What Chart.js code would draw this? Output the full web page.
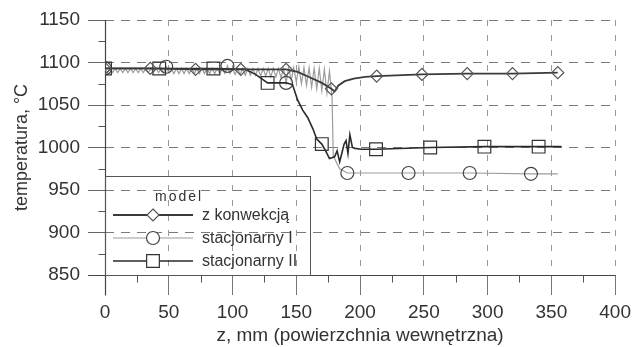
<!DOCTYPE html>
<html><head><meta charset="utf-8">
<script src="https://cdn.jsdelivr.net/npm/chart.js@4/dist/chart.umd.min.js"></script>
<style>html,body{margin:0;padding:0;background:#fff}</style>
</head><body>
<canvas id="c" width="637" height="347"></canvas>
<script>
// ---- tick labels ----
const xTickValues = [0, 50, 100, 150, 200, 250, 300, 350, 400];
const yTickValues = [850, 900, 950, 1000, 1050, 1100, 1150];
const xMinorValues = [25, 75, 125, 175, 225, 275, 325, 375];
const yMinorValues = [875, 925, 975, 1025, 1075, 1125];

// ---- series: z konwekcją ----
const zKonw = [0, 35.5, 71, 106.5, 142, 151, 160, 170, 177.5, 180, 183, 188, 195, 204, 213, 248.5, 284, 319.5, 355];
const tKonw = [1093, 1093, 1092, 1092, 1092, 1089, 1083, 1076, 1069, 1066, 1073, 1078, 1081, 1083, 1084, 1086, 1087, 1087, 1088];
const markKonw = [0, 35.5, 71, 106.5, 142, 177.5, 213, 248.5, 284, 319.5, 355];

// ---- series: stacjonarny I ----
const zSt1 = [0,2,4,6,8,10,12,14,16,18,20,22,24,26,28,30,32,34,36,38,40,42,44,46,
  48,50,52,54,56,58,60,62,64,66,68,70,72,74,76,78,80,82,84,86,88,90,92,94,
  96,98,100,102,104,106,108,110,112,114,116,118,120,122,124,126,128,130,132,134,136,138,
  140,142,144,146,148,150,152,154,156,158,160,162,164,166,168,170,172,174,176,178,
  179,184,190,238,286,334,355];
const tSt1 = [1093,1088,1093,1088,1093,1088,1093,1088,1093,1088,1093,1088,1093,1088,1093,1088,1093,1088,1093,1088,1093,1088,1093,1088,
  1095,1088,1093,1087,1093,1087,1093,1087,1093,1087,1093,1087,1093,1087,1093,1087,1093,1087,1093,1087,1093,1087,1093,1087,
  1096,1087,1093,1086,1093,1086,1093,1085,1093,1085,1093,1085,1093,1084,1093,1084,1093,1083,1093,1083,1093,1082,
  1093,1076,1094,1079,1094,1077,1095,1075,1094,1073,1094,1071,1093,1069,1093,1067,1092,1064,1090,1060,
  990,975,970,970,970,969,969];
const markSt1 = [0, 48, 96, 142, 190, 238, 286, 334];

// ---- series: stacjonarny II ----
const zSt2 = [0, 42.5, 85, 110, 118, 127.5, 135, 142, 147, 151, 155, 159, 163, 166, 170, 173, 176, 180, 182, 184,
  187.5, 189, 190.5, 192, 194, 196, 201, 212.5, 255, 297.5, 340, 358];
const tSt2 = [1093, 1093, 1093, 1092, 1086, 1076, 1076, 1076, 1074, 1056, 1044, 1035, 1022, 1010, 1004, 996, 987, 989, 996, 983,
  1004, 1008, 993, 1015, 1000, 999, 998, 998, 1000, 1001, 1001, 1001];
const markSt2 = [0, 42.5, 85, 127.5, 170, 212.5, 255, 297.5, 340];

const legendTitle = 'model';
const legendNames = ['z konwekcją', 'stacjonarny I', 'stacjonarny II'];
const xTitle = 'z, mm (powierzchnia wewnętrzna)';
const yTitle = 'temperatura, °C';

const FONT = '"Liberation Sans", Arial, sans-serif';
const TXT = '#333';
const pts = (zs, ts) => zs.map((z, i) => ({x: z, y: ts[i]}));
const rad = (marks, r) => ctx => (ctx.raw && marks.includes(ctx.raw.x)) ? r : 0;

const styles = [
  {color: '#3a3a3a', width: 1.8, marker: 'rectRot', r: 6, mcol: '#555'},
  {color: '#9c9c9c', width: 1.2, marker: 'circle', r: 6.5, mcol: '#444'},
  {color: '#2a2a2a', width: 1.6, marker: 'rect', r: 9, mcol: '#333'}
];

function drawMarker(ctx, style, x, y, r) {
  ctx.beginPath();
  if (style === 'circle') { ctx.arc(x, y, r, 0, Math.PI * 2); }
  else if (style === 'rect') { const s = r * Math.SQRT1_2; ctx.rect(x - s, y - s, 2 * s, 2 * s); }
  else { ctx.moveTo(x, y - r); ctx.lineTo(x + r, y); ctx.lineTo(x, y + r); ctx.lineTo(x - r, y); ctx.closePath(); }
  ctx.fillStyle = '#fff'; ctx.fill(); ctx.stroke();
}

const axes = {
  id: 'axes',
  beforeDatasetsDraw(chart) {
    const {ctx, chartArea: a, scales: {x, y}} = chart;
    const L = Math.round(a.left) + 0.5, B = Math.round(a.bottom) + 0.5;
    ctx.save();
    ctx.setLineDash([]);
    ctx.strokeStyle = '#444'; ctx.lineWidth = 1.2;
    ctx.beginPath();
    ctx.moveTo(L - 17, B); ctx.lineTo(Math.round(a.right) + 0.5, B);
    ctx.moveTo(L, Math.round(a.top)); ctx.lineTo(L, B + 20);
    ctx.stroke();
    ctx.strokeStyle = '#555'; ctx.lineWidth = 1;
    ctx.beginPath();
    xMinorValues.forEach(v => { const px = Math.round(x.getPixelForValue(v)) + 0.5; ctx.moveTo(px, B); ctx.lineTo(px, B + 7); });
    yMinorValues.forEach(v => { const py = Math.round(y.getPixelForValue(v)) + 0.5; ctx.moveTo(L, py); ctx.lineTo(L - 7, py); });
    ctx.stroke();
    ctx.restore();
  }
};

const legendBox = {
  id: 'legendBox',
  afterDraw(chart) {
    const {ctx, chartArea: a} = chart;
    ctx.save();
    const W = 205, H = 99, L = Math.round(a.left), T = Math.round(a.bottom) - H;
    ctx.strokeStyle = '#555'; ctx.lineWidth = 1;
    ctx.strokeRect(L + 0.5, T + 0.5, W, H);
    ctx.fillStyle = TXT;
    ctx.font = '14px ' + FONT;
    ctx.textBaseline = 'middle'; ctx.textAlign = 'left';
    try { ctx.letterSpacing = '2px'; } catch (e) {}
    ctx.fillText(legendTitle, L + 50, T + 21);
    try { ctx.letterSpacing = '0px'; } catch (e) {}
    ctx.font = '16px ' + FONT;
    legendNames.forEach((name, i) => {
      const st = styles[i];
      const yy = T + 39 + i * 23;
      ctx.strokeStyle = st.color; ctx.lineWidth = st.width;
      ctx.beginPath(); ctx.moveTo(L + 8, yy); ctx.lineTo(L + 88, yy); ctx.stroke();
      ctx.strokeStyle = st.mcol; ctx.lineWidth = 1.2;
      drawMarker(ctx, st.marker, L + 48, yy, st.r);
      ctx.fillStyle = TXT;
      ctx.fillText(name, L + 97, yy + 1);
    });
    ctx.restore();
  }
};

const mk = (i, label, data, marks) => ({
  label, data: pts(...data),
  borderColor: styles[i].color, borderWidth: styles[i].width,
  pointStyle: styles[i].marker, pointRadius: rad(marks, styles[i].r),
  pointBorderColor: styles[i].mcol, pointBorderWidth: 1.2,
  pointBackgroundColor: 'rgba(255,255,255,0)', pointHoverRadius: 0,
  tension: 0, fill: false, showLine: true
});

new Chart(document.getElementById('c'), {
  type: 'scatter',
  data: {
    datasets: [
      Object.assign(mk(0, legendNames[0], [zKonw, tKonw], markKonw), {order: 1}),
      Object.assign(mk(2, legendNames[2], [zSt2, tSt2], markSt2), {order: 2}),
      Object.assign(mk(1, legendNames[1], [zSt1, tSt1], markSt1), {order: 3})
    ]
  },
  options: {
    responsive: false, animation: false, devicePixelRatio: 1,
    layout: {padding: {top: 20, right: 16, left: 0, bottom: 0}},
    plugins: {legend: {display: false}, tooltip: {enabled: false}},
    scales: {
      x: {
        type: 'linear', min: 0, max: 400,
        afterBuildTicks: s => { s.ticks = xTickValues.map(v => ({value: v})); },
        afterFit: s => { s.height = 72; },
        grid: {color: '#999', lineWidth: 1, tickLength: 20, tickColor: '#777', tickBorderDash: []},
        border: {display: false, dash: [6, 9]},
        ticks: {color: TXT, font: {family: FONT, size: 19}, padding: 6, maxRotation: 0, autoSkip: false, callback: v => String(v)},
        title: {display: true, text: xTitle, color: TXT, font: {family: FONT, size: 19}, padding: {top: 0, bottom: 0}}
      },
      y: {
        type: 'linear', min: 850, max: 1150,
        afterBuildTicks: s => { s.ticks = yTickValues.map(v => ({value: v})); },
        afterFit: s => { s.width = 105; },
        grid: {color: '#7a7a7a', lineWidth: 1, tickLength: 17, tickColor: '#666', tickBorderDash: []},
        border: {display: false, dash: [9, 7]},
        ticks: {color: TXT, font: {family: FONT, size: 19}, padding: 8, callback: v => String(v)},
        title: {display: true, text: yTitle, color: TXT, font: {family: FONT, size: 18}, padding: {top: 11, bottom: 0}}
      }
    }
  },
  plugins: [axes, legendBox]
});
</script>
</body></html>
